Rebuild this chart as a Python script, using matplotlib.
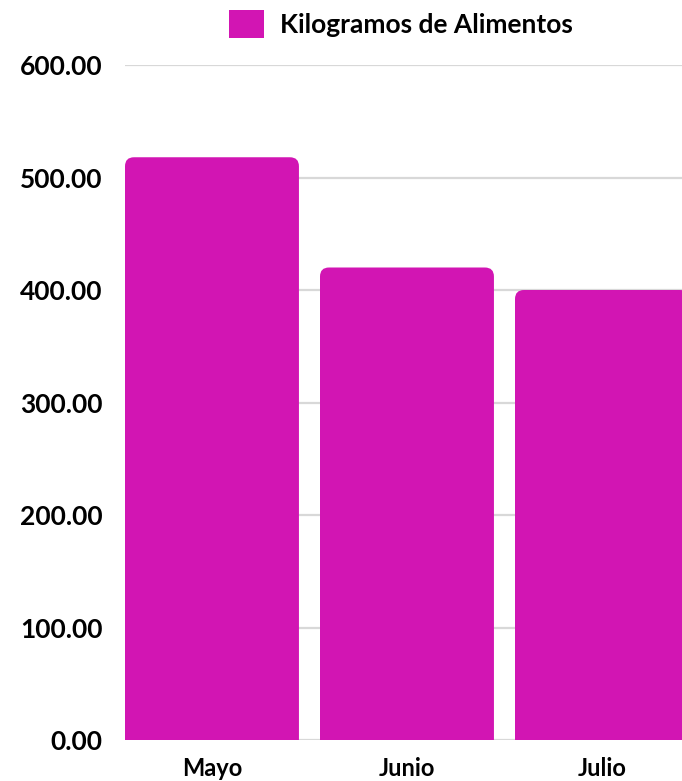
import numpy as np
import matplotlib.pyplot as plt
from matplotlib.patches import FancyBboxPatch, Patch

# data
months = ["Mayo", "Junio", "Julio"]
kilos = [518, 420, 400]
yticks = [0, 100, 200, 300, 400, 500, 600]

bar_color = "#d215b3"
bar_width = 0.892

plt.rcParams["font.family"] = ["Lato", "DejaVu Sans"]

fig = plt.figure(figsize=(6.82, 7.81), dpi=100)
ax = fig.add_axes([125 / 682, 1 - 740 / 781, 557 / 682, 675 / 781])

x0 = -bar_width / 2
ax.set_xlim(x0, x0 + 557 / 195)
ax.set_ylim(0, 600)

# gridlines
for t in yticks:
    ax.axhline(t, color="#d8d8d8", linewidth=1.6, zorder=0)

# rounded-top bars (bottom corners pushed below the axis)
px_x = 195.0
px_y = 675 / 600
r = 9
for i, v in enumerate(kilos):
    p = FancyBboxPatch(
        (i - bar_width / 2, -20),
        bar_width,
        v + 20,
        boxstyle="round,pad=0,rounding_size=%f" % (r / px_x),
        mutation_aspect=(r / px_y) / (r / px_x),
        facecolor=bar_color,
        edgecolor="none",
        zorder=2,
    )
    ax.add_patch(p)

ax.set_yticks(yticks)
ax.set_yticklabels(["%.2f" % t for t in yticks], fontsize=19, fontweight="bold")
ax.set_xticks(np.arange(len(months)))
ax.set_xticklabels(months, fontsize=17, fontweight="bold")
ax.tick_params(axis="both", length=0)
ax.tick_params(axis="y", pad=16)
ax.tick_params(axis="x", pad=12)
for s in ax.spines.values():
    s.set_visible(False)

fig.legend(
    handles=[Patch(facecolor=bar_color, label="Kilogramos de Alimentos")],
    loc="center",
    bbox_to_anchor=(401 / 682, 1 - 24 / 781),
    frameon=False,
    prop={"size": 19, "weight": "bold", "family": ["Lato", "DejaVu Sans"]},
    handlelength=1.3,
    handleheight=1.2,
    handletextpad=0.6,
)

fig.savefig("out.png", dpi=100)
